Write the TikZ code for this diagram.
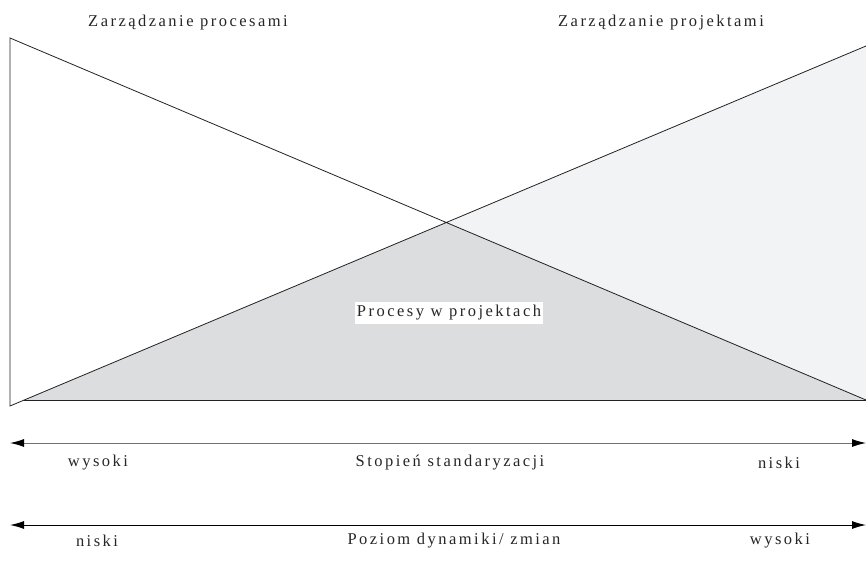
\documentclass[tikz,border=0pt]{standalone}
\usepackage{fontspec}
\setmainfont{Liberation Serif}[LetterSpace=15]
\usetikzlibrary{arrows.meta}
\definecolor{lightfill}{HTML}{F2F3F5}
\definecolor{darkfill}{HTML}{DCDDDF}
\definecolor{edge}{HTML}{222222}
\begin{document}
\begin{tikzpicture}[x=1pt,y=-1pt,
  edgeline/.style={draw=edge, line width=0.8pt},
  lbl/.style={font=\fontsize{16.5}{18}\selectfont, inner sep=0pt, text=black!85},
  axis/.style={line width=1pt, {Latex[length=14pt,width=8pt,color=black]}-{Latex[length=14pt,width=8pt,color=black]}}]
\useasboundingbox (0,0) rectangle (866,572);
\coordinate (A) at (10,38);
\coordinate (B) at (10,406);
\coordinate (D) at (866,46);
\coordinate (E) at (866,400);
\coordinate (F) at (24.3,400);
\coordinate (X) at (intersection of A--E and B--D);
\fill[lightfill] (F) -- (D) -- (E) -- cycle;
\fill[darkfill] (F) -- (X) -- (E) -- cycle;
\draw[edgeline] (D) -- (B) -- (A) -- (E);
\draw[edgeline] (F) -- (E);
\node[lbl] (zproc) at (188,22.5) {Zarządzanie procesami};
\node[lbl] (zproj) at (661,22.5) {Zarządzanie projektami};
\node[lbl, fill=white, inner xsep=2pt, inner ysep=3pt] (pwp) at (449,313) {Procesy w projektach};
\coordinate (L1) at (10,443);
\coordinate (R1) at (866,443);
\coordinate (L2) at (10,525);
\coordinate (R2) at (866,525);
\draw[axis, draw=black!55] (L1) -- (R1);
\draw[axis, draw=black] (L2) -- (R2);
\node[lbl] (w1) at (98,463) {wysoki};
\node[lbl] (s1) at (450,463) {Stopień standaryzacji};
\node[lbl] (n1) at (779,463) {niski};
\node[lbl] (n2) at (97,541) {niski};
\node[lbl] (p2) at (454,541) {Poziom dynamiki/ zmian};
\node[lbl] (w2) at (780,541) {wysoki};
\end{tikzpicture}
\end{document}
